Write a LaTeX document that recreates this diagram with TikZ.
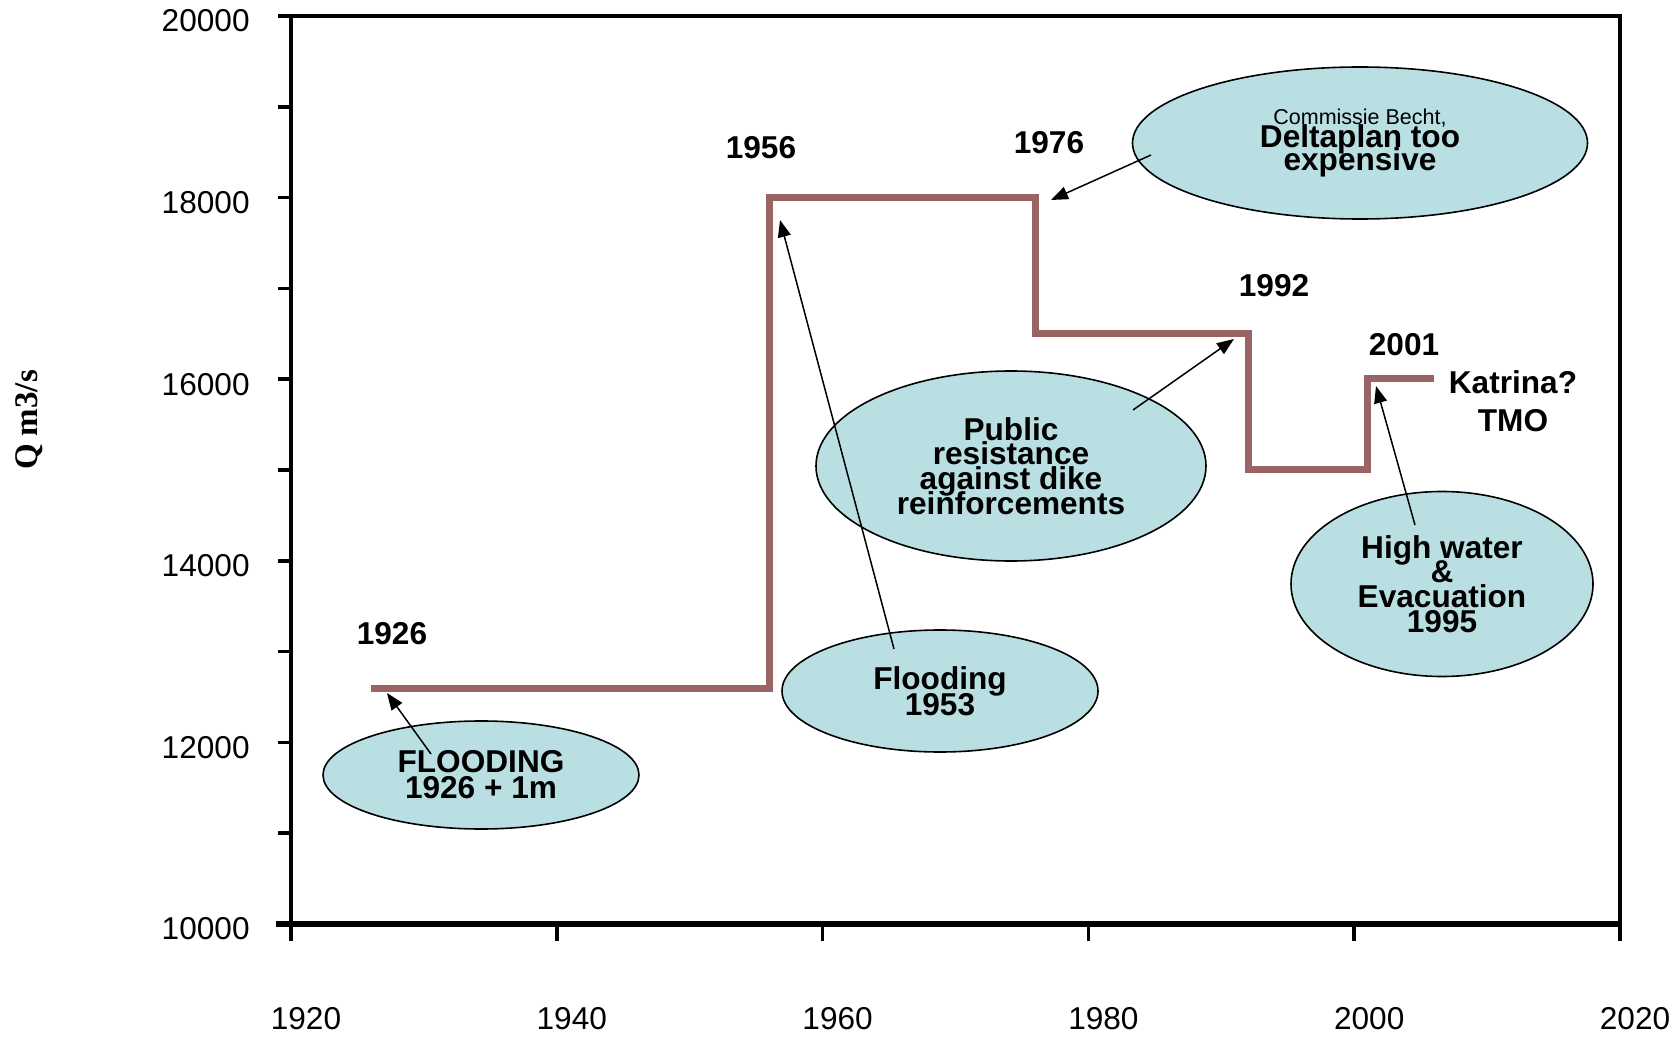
\documentclass[tikz,border=0pt]{standalone}
\usepackage{fontspec}
\setmainfont{Liberation Sans}
\newfontfamily\axisserif{Liberation Serif}
\usetikzlibrary{arrows.meta,shapes.geometric}

\definecolor{stepcolor}{HTML}{9A6464}
\definecolor{bubblefill}{HTML}{B9DFE3}

% keep tight line spacing inside the bubbles
\lineskiplimit=-100pt

\begin{document}
\begin{tikzpicture}[x=0.5pt,y=-0.5pt,
  bubble/.style={ellipse, draw=black, line width=0.8pt, fill=bubblefill,
    inner sep=0pt, align=center},
  yearlabel/.style={font=\fontsize{15.8}{19}\selectfont\bfseries, inner sep=0pt},
  ticklabel/.style={font=\fontsize{15.8}{19}\selectfont, inner sep=0pt},
  callout/.style={-{Triangle[length=8.5pt,width=6.5pt]}, line width=0.75pt},
  discharge/.style={line width=3.5pt, draw=stepcolor, line join=miter},
  axisline/.style={line width=2pt, draw=black},
  tickmark/.style={line width=1.8pt, draw=black}]

\useasboundingbox (0,0) rectangle (1677,1037);

% ---- plot frame ----
\draw[axisline] (291,16) -- (1620,16) -- (1620,924);
\draw[axisline] (291,924) -- (291,16);
\draw[line width=2.8pt] (276,924) -- (1620,924);

% ---- y ticks (every 1000) and labels (every 2000) ----
\foreach \k in {0,...,10}
  \draw[tickmark] (278,{924-\k*90.8}) -- (291,{924-\k*90.8});
\foreach \k/\lab in {0/10000,2/12000,4/14000,6/16000,8/18000,10/20000}
  \node[ticklabel, anchor=east] (ylab\lab) at (250,{929-\k*90.8}) {\lab};

% ---- x ticks and labels ----
\foreach \k/\lab in {0/1920,1/1940,2/1960,3/1980,4/2000,5/2020} {
  \draw[tickmark] ({291+\k*265.8},924) -- ({291+\k*265.8},941);
  \node[ticklabel] (xlab\lab) at ({306+\k*265.8},1019) {\lab};
}

% ---- axis title ----
\node[rotate=90, inner sep=0pt, font=\fontsize{16.5}{19}\selectfont\axisserif\bfseries]
  (ytitle) at (29,420) {Q m3/s};

% ---- design discharge over time ----
\coordinate (s0) at (371,688);
\coordinate (s1) at (769,688);
\coordinate (s2) at (769,198);
\coordinate (s3) at (1035,198);
\coordinate (s4) at (1035,334);
\coordinate (s5) at (1248,334);
\coordinate (s6) at (1248,470);
\coordinate (s7) at (1367,470);
\coordinate (s8) at (1367,379);
\coordinate (s9) at (1434,379);
\draw[discharge] (s0) -- (s1) -- (s2) -- (s3) -- (s4) -- (s5) -- (s6) -- (s7) -- (s8) -- (s9);

% ---- year labels ----
\node[yearlabel] (y1926) at (392,634) {1926};
\node[yearlabel] (y1956) at (761,148) {1956};
\node[yearlabel] (y1976) at (1049,143) {1976};
\node[yearlabel] (y1992) at (1274,286) {1992};
\node[yearlabel] (y2001) at (1404,345) {2001};
\node[yearlabel, align=center] (katrina) at (1513,401) {Katrina?\\TMO};

% ---- events ----
\node[bubble, minimum width=158pt, minimum height=54pt,
  font=\fontsize{15.8}{13}\selectfont\bfseries]
  (e1926) at (481,775) {FLOODING\\1926 + 1m};
\node[bubble, minimum width=158pt, minimum height=61pt,
  font=\fontsize{15.8}{13}\selectfont\bfseries]
  (e1953) at (940,691) {Flooding\\1953};
\node[bubble, minimum width=195pt, minimum height=95pt,
  font=\fontsize{15.8}{12.3}\selectfont\bfseries]
  (public) at (1011,466) {Public\\resistance\\against dike\\reinforcements};
\node[bubble, minimum width=227.5pt, minimum height=76pt,
  font=\fontsize{15.8}{11.5}\selectfont\bfseries]
  (becht) at (1360,143) {{\fontsize{10.75}{11.5}\selectfont\mdseries Commissie Becht,}\\Deltaplan too\\expensive};
\node[bubble, minimum width=151pt, minimum height=92.5pt,
  font=\fontsize{15.8}{12.35}\selectfont\bfseries]
  (e1995) at (1442,584) {High water\\\&\\Evacuation\\1995};

% ---- callouts ----
\coordinate (t1) at (431,754);  \coordinate (h1) at (387,693);
\coordinate (t2) at (894,649);  \coordinate (h2) at (780,220);
\coordinate (t3) at (1151,155); \coordinate (h3) at (1051,200);
\coordinate (t4) at (1133,410); \coordinate (h4) at (1234,339);
\coordinate (t5) at (1415,525); \coordinate (h5) at (1376,386);
\draw[callout] (t1) -- (h1);
\draw[callout] (t2) -- (h2);
\draw[callout] (t3) -- (h3);
\draw[callout] (t4) -- (h4);
\draw[callout] (t5) -- (h5);

\end{tikzpicture}
\end{document}
